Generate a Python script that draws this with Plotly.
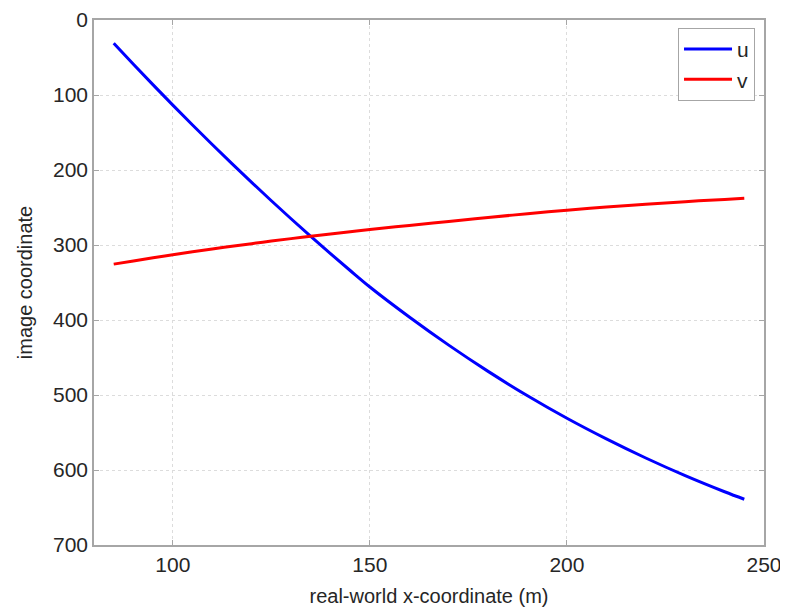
import plotly.graph_objects as go

x_m = [85, 90, 95, 100, 105, 110, 115, 120, 125, 130, 135, 140, 145, 150,
       160, 170, 180, 190, 200, 210, 220, 230, 240, 245]
u_vals = [31, 59, 86.5, 113.5, 140, 166, 191.5, 216.5, 241, 265, 288.5, 311.5, 334, 356,
          396, 433.5, 468.5, 501, 531, 558.5, 584, 607.5, 629, 639]
v_vals = [325.5, 321.2, 317.0, 313.0, 309.1, 305.3, 301.7, 298.2, 294.8, 291.5, 288.3,
          285.2, 282.2, 279.3, 273.9, 268.6, 263.3, 258.3, 253.6, 249.4, 245.6, 242.2,
          239.2, 237.8]

x_ticks = [100, 150, 200, 250]
y_ticks = [0, 100, 200, 300, 400, 500, 600, 700]

FONT = "Liberation Sans, Arial, Helvetica, sans-serif"

fig = go.Figure()
fig.add_trace(go.Scatter(x=x_m, y=u_vals, mode="lines", name="u",
                         line=dict(color="#0000ff", width=3, shape="spline")))
fig.add_trace(go.Scatter(x=x_m, y=v_vals, mode="lines", name="v",
                         line=dict(color="#ff0000", width=3, shape="spline")))

axis_common = dict(
    showline=True, linecolor="#a6a6a6", linewidth=1.5, mirror="ticks",
    ticks="inside", ticklen=5, tickcolor="#a6a6a6", tickwidth=1,
    showgrid=True, gridcolor="#dcdcdc", griddash="dot", gridwidth=1,
    zeroline=False, automargin=False, ticklabeloverflow="allow",
    tickfont=dict(family=FONT, size=21, color="#262626"),
)

fig.update_layout(
    width=780, height=606,
    margin=dict(l=86, r=24, t=12, b=69),
    paper_bgcolor="white", plot_bgcolor="white",
    font=dict(family=FONT, size=20, color="#262626"),
    xaxis=dict(range=[80, 250], tickvals=x_ticks,
               title=dict(text="real-world x-coordinate (m)", standoff=14,
                          font=dict(family=FONT, size=20, color="#262626")),
               **axis_common),
    yaxis=dict(range=[700, 0], tickvals=y_ticks,
               title=dict(text="image coordinate", standoff=15,
                          font=dict(family=FONT, size=20, color="#262626")),
               **axis_common),
    legend=dict(x=0.9866, y=0.985, xanchor="right", yanchor="top",
                bgcolor="white", bordercolor="#a6a6a6", borderwidth=1,
                font=dict(family=FONT, size=21, color="#262626"),
                itemwidth=48, tracegroupgap=2),
    showlegend=True,
)

fig.write_html("out.html")
